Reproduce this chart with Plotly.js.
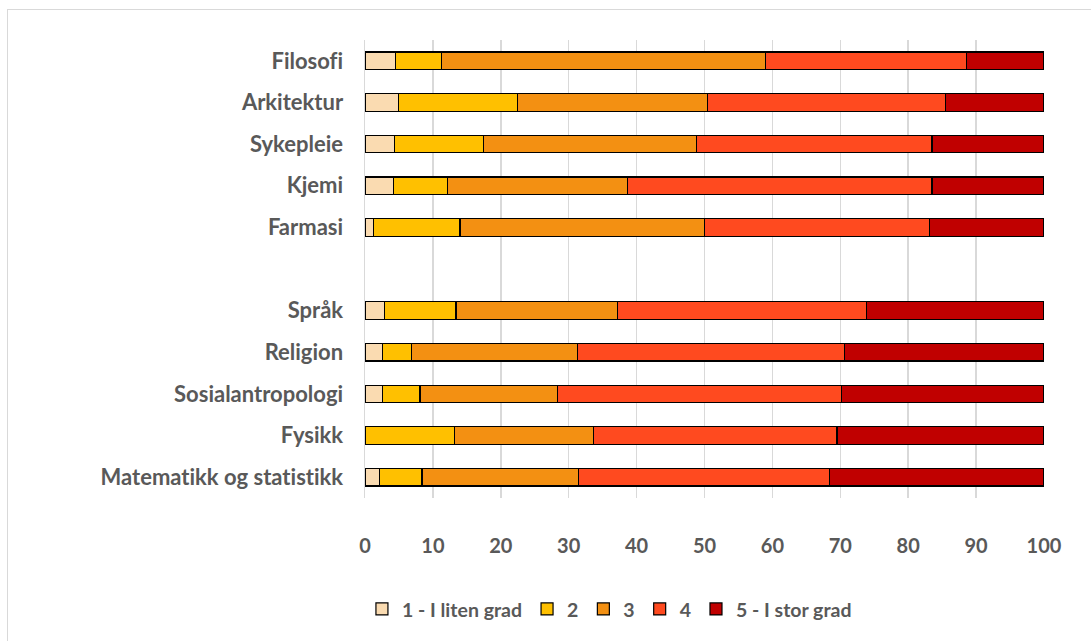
<!DOCTYPE html>
<html>
<head>
<meta charset="utf-8">
<script src="https://cdn.plot.ly/plotly-3.0.1.min.js"></script>
<style>
html,body{margin:0;padding:0;background:#fff;overflow:hidden;}
#frame{position:absolute;left:7px;top:9px;width:1200px;height:800px;border:1.5px solid #d9d9d9;box-sizing:border-box;pointer-events:none;}
#chart{position:absolute;left:0;top:0;width:1091px;height:641px;}
#chart text{font-variant-ligatures:none;font-feature-settings:"liga" 0;}
</style>
</head>
<body>
<div id="frame"></div>
<div id="chart"></div>
<script>
// Categories, bottom to top; the blank entry is the gap between the two groups
const categories = ["Matematikk og statistikk","Fysikk","Sosialantropologi","Religion","Språk","\u00a0","Farmasi","Kjemi","Sykepleie","Arkitektur","Filosofi"];
const subjects = ["Matematikk og statistikk","Fysikk","Sosialantropologi","Religion","Språk","Farmasi","Kjemi","Sykepleie","Arkitektur","Filosofi"];

const seriesNames = ["1 - I liten grad","2","3","4","5 - I stor grad"];
const grade1 = [2.1, 0.0, 2.6, 2.6, 2.9, 1.3, 4.2, 4.4, 4.9, 4.5];
const grade2 = [6.3, 13.2, 5.5, 4.3, 10.5, 12.7, 8.0, 13.0, 17.6, 6.8];
const grade3 = [23.1, 20.4, 20.3, 24.4, 23.8, 36.0, 26.5, 31.4, 27.9, 47.7];
const grade4 = [36.9, 35.9, 41.8, 39.3, 36.6, 33.1, 44.8, 34.7, 35.1, 29.6];
const grade5 = [31.6, 30.5, 29.8, 29.4, 26.2, 16.9, 16.5, 16.5, 14.5, 11.4];
const colors = ["#FADBB1","#FFC000","#F39012","#FF4A1F","#C00000"];
const xTicks = [0,10,20,30,40,50,60,70,80,90,100];

const allValues = [grade1, grade2, grade3, grade4, grade5];
const traces = allValues.map((vals, i) => ({
  type: "bar",
  orientation: "h",
  name: seriesNames[i],
  y: subjects,
  x: vals,
  marker: {color: colors[i], line: {color: "#000000", width: 1.2}},
  hoverinfo: "x+y+name"
}));

const gray = "#595959";
const layout = {
  width: 1091,
  height: 641,
  paper_bgcolor: "rgba(0,0,0,0)",
  plot_bgcolor: "rgba(0,0,0,0)",
  barmode: "stack",
  bargap: 0.58,
  margin: {l: 365, r: 47, t: 39.5, b: 127.5},
  font: {family: "Lato, 'Open Sans', sans-serif", color: gray},
  xaxis: {
    range: [0, 100],
    tickvals: xTicks,
    ticktext: xTicks.map(String),
    showgrid: true,
    gridcolor: "#d9d9d9",
    gridwidth: 1.5,
    zeroline: false,
    showline: false,
    ticks: "",
    ticklabelstandoff: 34,
    tickfont: {size: 20, color: gray, family: "Lato, sans-serif", weight: "bold"},
    fixedrange: true
  },
  yaxis: {
    type: "category",
    categoryorder: "array",
    categoryarray: categories,
    range: [-0.5, categories.length - 0.5],
    showgrid: false,
    zeroline: false,
    showline: true,
    linecolor: "#d9d9d9",
    linewidth: 1.5,
    ticks: "",
    ticklabelstandoff: 16,
    tickfont: {size: 22, color: gray, family: "Lato, sans-serif", weight: "bold"},
    fixedrange: true
  },
  legend: {
    orientation: "h",
    x: 0.36,
    xanchor: "center",
    xref: "paper",
    y: -0.243,
    yanchor: "middle",
    traceorder: "normal",
    font: {size: 19.5, color: gray, family: "Lato, sans-serif", weight: "bold"},
    itemwidth: 30,
    bgcolor: "rgba(0,0,0,0)"
  },
  showlegend: true
};

Plotly.newPlot("chart", traces, layout, {displayModeBar: false, staticPlot: true});
</script>
</body>
</html>
